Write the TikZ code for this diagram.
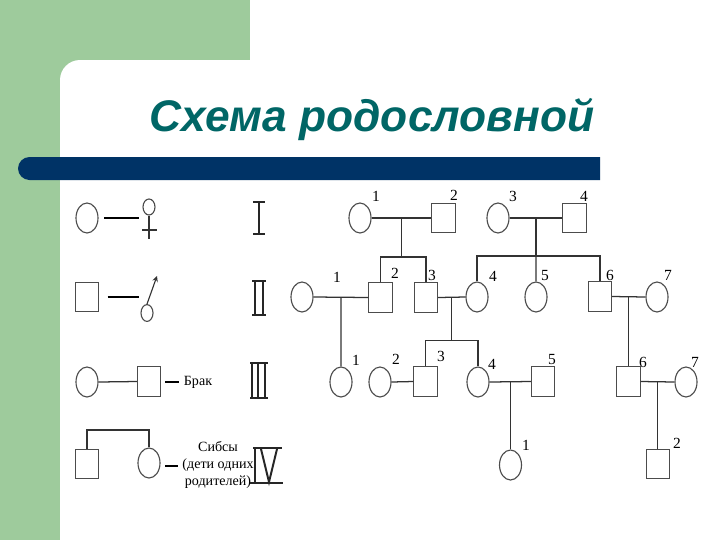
\documentclass[tikz,border=0pt]{standalone}
\usepackage{fontspec}
\setmainfont{Liberation Serif}
\newfontfamily\titlefont{Liberation Sans}
\usetikzlibrary{shapes.geometric}
\definecolor{slidegreen}{RGB}{158,203,156}
\definecolor{slidenavy}{RGB}{0,51,102}
\definecolor{titleteal}{RGB}{0,102,102}

\begin{document}
\begin{tikzpicture}[x=0.025cm, y=-0.025cm,
        fem/.style={draw=black!70, thick, ellipse, minimum width=0.55cm, minimum height=0.75cm, inner sep=0},
        mal/.style={draw=black!70, thick, rectangle, minimum width=0.58cm, minimum height=0.74cm, inner sep=0},
        num/.style={font=\fontsize{11}{13}\selectfont, inner sep=0},
        link/.style={draw=black!80, line width=0.9pt},
        legline/.style={draw=black, line width=1.6pt},
        roman/.style={draw=black!85, line width=1.4pt}]
        \useasboundingbox (0,0) rectangle (720,540);
        \clip (0,0) rectangle (720,540);

        % slide background
        \fill[slidegreen] (0,0) rectangle (250,540);
        \fill[white, rounded corners=0.5cm] (60,60) rectangle (760,580);
        \fill[slidenavy] (600,157) [rounded corners=0.2875cm] -- (18,157) -- (18,180) [sharp corners] -- (600,180) -- cycle;
        \node[text=titleteal, font=\titlefont\fontsize{31.5}{36}\selectfont\bfseries\itshape] (title) at (372,120) {Схема родословной};

        % legend
        \begin{scope}[every node/.style={inner sep=0}]
                \node[fem] (lf1) at (87,218) {};
                \node[draw=black!70, thick, ellipse, minimum width=0.3cm, minimum height=0.4cm] (fs) at (149,207) {};
                \coordinate (le1) at (139,218);
                \node[mal] (lm2) at (87,297) {};
                \node[draw=black!70, thick, ellipse, minimum width=0.3cm, minimum height=0.42cm] (ms) at (147,313) {};
                \coordinate (le2) at (139,297);
                \coordinate (mt) at (157,276);
                \node[fem] (lf3) at (87,382) {};
                \node[mal] (lm3) at (149,381.5) {};
                \node[font=\fontsize{10}{12}\selectfont] (brak) at (198,382) {Брак};
                \node[mal] (lm4) at (87,464) {};
                \node[fem] (lf4) at (149,463) {};
                \node[font=\fontsize{10}{12.4}\selectfont, align=center] (sibs) at (218,465) {Сибсы\\(дети одних\\родителей)};
        \end{scope}

        \draw[legline, shorten <=4pt] (lf1.east) -- (le1);
        \draw[black!80, thick] (fs.south) -- ++(0,23);
        \draw[black!80, thick] (142,230) -- (157,230);
        \draw[legline, shorten <=6pt] (lm2.east) -- (le2);
        \draw[black!80, thick, -stealth] (ms.north) -- (mt);
        \draw[link] (lf3.east) -- (lm3.west);
        \draw[legline, shorten >=3pt] (165,382) -- (brak.west);
        \draw[link] (lm4.north) |- (118,430) -| (lf4.north);
        \draw[legline] (165,466) -- (178,466);

        % generations
        \draw[roman] (253,202) -- (265,202) (259,202) -- (259,234) (253,234) -- (265,234);
        \draw[roman] (252,281) -- (266,281) (255,281) -- (255,315) (263,281) -- (263,315) (252,315) -- (266,315);
        \draw[roman] (250,363) -- (268,363) (252,363) -- (252,398) (258,363) -- (258,398) (265,363) -- (265,398) (250,398) -- (268,398);
        \draw[roman] (253,448) -- (282,448) (255,448) -- (255,483) (250,483) -- (283,483);
        \draw[roman] (261,449) -- (269,482) -- (277,449);

        % pedigree
        \node[fem] (I1) at (360,218) {};
        \node[mal] (I2) at (443.5,218) {};
        \node[fem] (I3) at (498,218) {};
        \node[mal] (I4) at (574.5,218) {};

        \node[fem] (II1) at (302,297) {};
        \node[mal] (II2) at (380.5,297.5) {};
        \node[mal] (II3) at (426,297.5) {};
        \node[fem] (II4) at (477,297) {};
        \node[fem] (II5) at (536,297) {};
        \node[mal] (II6) at (600,296.5) {};
        \node[fem] (II7) at (657,297) {};

        \node[fem] (III1) at (341,382) {};
        \node[fem] (III2) at (380,382) {};
        \node[mal] (III3) at (425.5,381.5) {};
        \node[fem] (III4) at (478,382) {};
        \node[mal] (III5) at (543,381.5) {};
        \node[mal] (III6) at (628.5,381.5) {};
        \node[fem] (III7) at (686,382) {};

        \node[fem] (IV1) at (510.5,465) {};
        \node[mal] (IV2) at (658,464) {};

        % numbers
        \begin{scope}[every node/.style={num}]
                \node at (376,196) {1};
                \node at (454,195) {2};
                \node at (513,196) {3};
                \node at (584,196) {4};
                \node at (337,277) {1};
                \node at (395,273) {2};
                \node at (432,275) {3};
                \node at (493,276) {4};
                \node at (545,276) {5};
                \node at (610,275) {6};
                \node at (668,275) {7};
                \node at (356,360) {1};
                \node at (396,359) {2};
                \node at (441,356) {3};
                \node at (492,364) {4};
                \node at (552,360) {5};
                \node at (643,362) {6};
                \node at (695,362) {7};
                \node at (526,445) {1};
                \node at (677,443) {2};
        \end{scope}

        % marriages and descent
        \draw[link] (I1.east) -- coordinate[midway] (m1) (I2.west);
        \draw[link] (m1) -- ++(0,39) coordinate (sib1);
        \draw[link] (II2.north) |- (sib1) -| (II3.north);
        \draw[link] (I3.east) -- coordinate[midway] (m2) (I4.west);
        \draw[link] (m2) -- ++(0,38) coordinate (sib2);
        \draw[link] (II4.north) |- (sib2) -| (II6.north);
        \draw[link] (sib2) -- (II5.north);

        \draw[link] (II1.east) -- coordinate[midway] (m3) (II2.west);
        \draw[link] (m3) -- (III1.north);
        \draw[link] (II3.east) -- coordinate[midway] (m4) (II4.west);
        \draw[link] (m4) -- ++(0,43) coordinate (sib3);
        \draw[link] (III3.north) |- (sib3) -| (III4.north);
        \draw[link] (II6.east) -- coordinate[midway] (m5) (II7.west);
        \draw[link] (m5) -- (m5 |- III6.north);

        \draw[link] (III2.east) -- (III3.west);
        \draw[link] (III4.east) -- coordinate[midway] (m6) (III5.west);
        \draw[link] (m6) -- (m6 |- IV1.north);
        \draw[link] (III6.east) -- coordinate[midway] (m7) (III7.west);
        \draw[link] (m7) -- (m7 |- IV2.north);
\end{tikzpicture}
\end{document}
